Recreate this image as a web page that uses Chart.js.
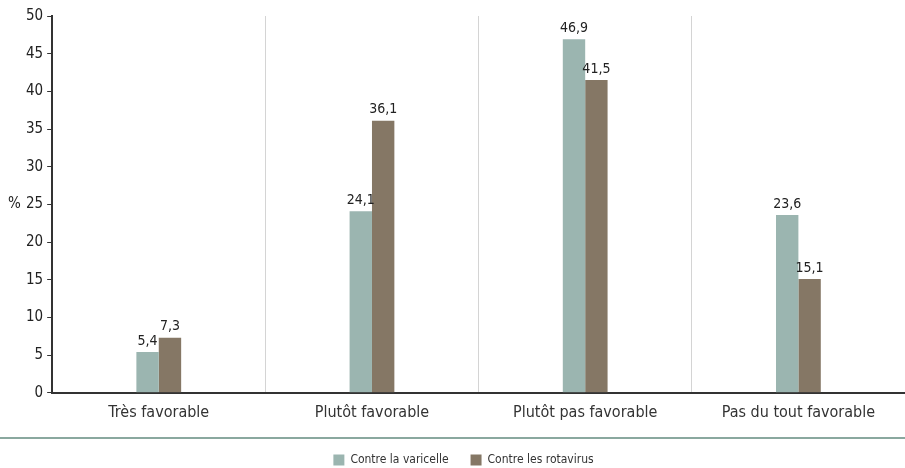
<!DOCTYPE html>
<html>
<head>
<meta charset="utf-8">
<script src="https://cdn.jsdelivr.net/npm/chart.js@4"></script>
<style>
  html, body { margin: 0; padding: 0; background: #fff; }
  #wrap { width: 905px; height: 468px; position: relative; }
</style>
</head>
<body>
<div id="wrap"><canvas id="myChart"></canvas></div>
<script>
"use strict";

var categories = ['Très favorable', 'Plutôt favorable', 'Plutôt pas favorable', 'Pas du tout favorable'];
var varicelle = [5.4, 24.1, 46.9, 23.6];
var rotavirus = [7.3, 36.1, 41.5, 15.1];
var yTicks = [0, 5, 10, 15, 20, 25, 30, 35, 40, 45, 50];

var narrow = "'DejaVu Sans Condensed', 'DejaVu Sans', sans-serif";

// values above the bars, French decimal comma
var barLabels = {
    id: 'barLabels',
    afterDatasetsDraw: function (chart) {
        var ctx = chart.ctx;
        ctx.save();
        ctx.font = 'condensed 14px ' + narrow;
        ctx.fillStyle = '#222';
        ctx.textAlign = 'center';
        ctx.textBaseline = 'bottom';
        chart.data.datasets.forEach(function (ds, i) {
            chart.getDatasetMeta(i).data.forEach(function (bar, j) {
                ctx.fillText(ds.data[j].toFixed(1).replace('.', ','), bar.x, bar.y - 4);
            });
        });
        ctx.restore();
    }
};

// "%" unit beside the y axis, and the rule above the legend
var extras = {
    id: 'extras',
    afterDraw: function (chart) {
        var ctx = chart.ctx;
        var y = chart.scales.y;
        ctx.save();
        ctx.font = 'condensed 15px ' + narrow;
        ctx.fillStyle = '#222';
        ctx.textAlign = 'left';
        ctx.textBaseline = 'middle';
        ctx.fillText('%', 8, y.getPixelForValue(25));

        ctx.strokeStyle = '#8aa89f';
        ctx.lineWidth = 2;
        ctx.beginPath();
        ctx.moveTo(0, 438);
        ctx.lineTo(chart.width, 438);
        ctx.stroke();
        ctx.restore();
    }
};

var ctx = document.getElementById('myChart').getContext('2d');
var chart = new Chart(ctx, {
    type: 'bar',
    data: {
        labels: categories,
        datasets: [
            {
                label: 'Contre la varicelle',
                backgroundColor: '#9bb5b0',
                data: varicelle
            },
            {
                label: 'Contre les rotavirus',
                backgroundColor: '#857765',
                data: rotavirus
            }
        ]
    },
    plugins: [barLabels, extras],
    options: {
        responsive: true,
        maintainAspectRatio: false,
        animation: false,
        layout: {
            padding: { left: 22, right: 0, top: 16, bottom: 0 }
        },
        datasets: {
            bar: {
                barPercentage: 1,
                categoryPercentage: 0.21
            }
        },
        plugins: {
            legend: {
                position: 'bottom',
                maxHeight: 36,
                labels: {
                    boxWidth: 11,
                    boxHeight: 11,
                    padding: 22,
                    color: '#333',
                    font: { family: narrow, weight: 'condensed', size: 12 }
                }
            },
            tooltip: { enabled: false }
        },
        scales: {
            x: {
                grid: {
                    offset: true,
                    color: '#d4d4d4',
                    lineWidth: 1,
                    drawTicks: false
                },
                border: { color: '#333', width: 2 },
                ticks: {
                    color: '#333',
                    padding: 10,
                    font: { family: narrow, weight: 'condensed', size: 16 }
                }
            },
            y: {
                min: 0,
                max: 50,
                afterBuildTicks: function (axis) {
                    axis.ticks = yTicks.map(function (v) { return { value: v }; });
                },
                grid: {
                    drawOnChartArea: false,
                    color: '#333',
                    tickLength: 5
                },
                border: { color: '#333', width: 2 },
                ticks: {
                    color: '#222',
                    padding: 4,
                    font: { family: narrow, weight: 'condensed', size: 15 }
                }
            }
        }
    }
});
</script>
</body>
</html>
